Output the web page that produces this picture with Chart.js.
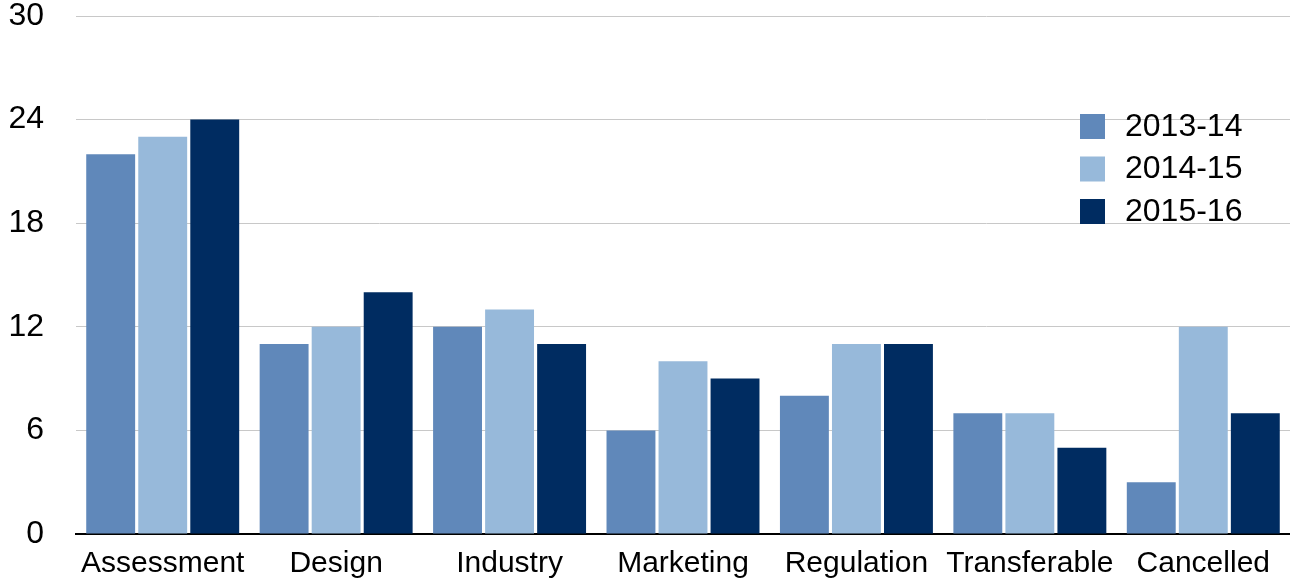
<!DOCTYPE html>
<html>
<head>
<meta charset="utf-8">
<script src="https://cdn.jsdelivr.net/npm/chart.js@4.4.1/dist/chart.umd.min.js"></script>
<style>
html, body { margin: 0; padding: 0; background: #fff; }
</style>
</head>
<body>
<canvas id="chart" width="1290" height="582"></canvas>
<script>
// categories + series
const categories = ["Assessment", "Design", "Industry", "Marketing", "Regulation", "Transferable", "Cancelled"]
const years = ["2013-14", "2014-15", "2015-16"]
const s2013 = [22, 11, 12, 6, 8, 7, 3]
const s2014 = [23, 12, 13, 10, 11, 7, 12]
const s2015 = [24, 14, 11, 9, 11, 5, 7]
const yTicks = [0, 6, 12, 18, 24, 30]
const colors = ["#6088ba", "#97b9da", "#002c61"]

const font = "'Liberation Sans', Helvetica, Arial, sans-serif"

// legend drawn inside the plot, right side
const insideLegend = {
id: "insideLegend",
afterDraw(chart) {
let ctx = chart.ctx
ctx.save()
ctx.font = "32px " + font
ctx.textBaseline = "middle"
chart.data.datasets.forEach((ds, i) => {
let y = 114 + i * 42.5
ctx.fillStyle = ds.backgroundColor
ctx.fillRect(1080, y, 25, 25)
ctx.fillStyle = "#000"
ctx.fillText(ds.label, 1125, y + 13)
})
ctx.restore()
}
}

let ctx = document.getElementById("chart").getContext("2d")

new Chart(ctx, {
type: "bar",
data: {
labels: categories,
datasets: [
{ label: years[0], data: s2013, backgroundColor: colors[0] },
{ label: years[1], data: s2014, backgroundColor: colors[1] },
{ label: years[2], data: s2015, backgroundColor: colors[2] }
]
},
options: {
responsive: false,
devicePixelRatio: 1,
animation: false,
layout: { padding: { left: 8, right: 0, top: 16, bottom: 0 } },
datasets: {
bar: { categoryPercentage: 0.9, barPercentage: 0.94 }
},
plugins: {
legend: { display: false },
tooltip: { enabled: false }
},
scales: {
x: {
grid: { display: false, drawTicks: false },
border: { display: true, color: "#000", width: 2 },
ticks: { color: "#000", font: { family: font, size: 30 }, padding: 12, maxRotation: 0, autoSkip: false },
// fixed axis size, no extra side padding
afterFit: axis => { axis.height = 48; axis.paddingLeft = 0; axis.paddingRight = 0 }
},
y: {
min: 0,
max: 30,
afterBuildTicks: axis => { axis.ticks = yTicks.map(v => ({ value: v })) },
grid: { color: "#c8c8c8", lineWidth: 1, drawTicks: false },
border: { display: false },
ticks: { color: "#000", font: { family: font, size: 32 }, padding: 32 },
afterFit: axis => { axis.width = 68; axis.paddingTop = 0; axis.paddingBottom = 0 }
}
}
},
plugins: [insideLegend]
})
</script>
</body>
</html>
